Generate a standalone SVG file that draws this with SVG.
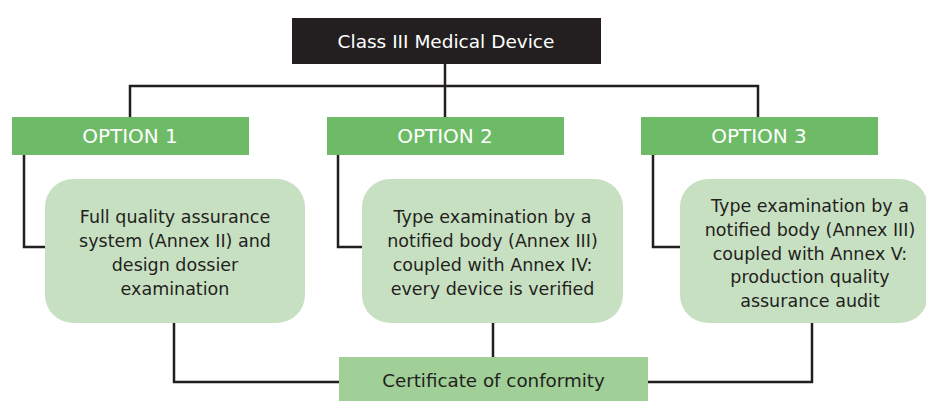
<svg xmlns="http://www.w3.org/2000/svg" width="926" height="401" viewBox="0 0 926 401">
<style>
.ln{fill:none;stroke:#231f20;stroke-width:2.5}
.opt{fill:#6dbb67}
.card{fill:#c8e0c2}
.t{font-family:"DejaVu Sans",sans-serif;text-anchor:middle}
.w{fill:#ffffff}
.d{fill:#231f20}
</style>
<rect width="926" height="401" fill="#ffffff"/>
<g id="connectors">
<path class="ln" d="M130 117V86H758V117M445 64V117"/>
<path class="ln" d="M24 155V247H45M338 155V247H362M653 155V247H680"/>
<path class="ln" d="M174 323V382H339M493 323V357M812 323V382H648"/>
</g>
<g id="title">
<rect x="292" y="18" width="309" height="46" fill="#231f20"/>
<text class="t w" x="446" y="48" font-size="18.5">Class III Medical Device</text>
</g>
<g id="option1">
<rect class="opt" x="12" y="117" width="237" height="38"/>
<text class="t w" x="130" y="143" font-size="20">OPTION 1</text>
</g>
<g id="option2">
<rect class="opt" x="327" y="117" width="237" height="38"/>
<text class="t w" x="445" y="143" font-size="20">OPTION 2</text>
</g>
<g id="option3">
<rect class="opt" x="641" y="117" width="237" height="38"/>
<text class="t w" x="759" y="143" font-size="20">OPTION 3</text>
</g>
<g id="desc1">
<rect class="card" x="45" y="179" width="260" height="144" rx="28"/>
<text class="t d" font-size="17.5"><tspan x="175" y="223">Full quality assurance</tspan><tspan x="175" y="247">system (Annex II) and</tspan><tspan x="175" y="271">design dossier</tspan><tspan x="175" y="295">examination</tspan></text>
</g>
<g id="desc2">
<rect class="card" x="362" y="179" width="261" height="144" rx="28"/>
<text class="t d" font-size="17.5"><tspan x="492.5" y="223">Type examination by a</tspan><tspan x="492.5" y="247">notified body (Annex III)</tspan><tspan x="492.5" y="271">coupled with Annex IV:</tspan><tspan x="492.5" y="295">every device is verified</tspan></text>
</g>
<g id="desc3">
<rect class="card" x="680" y="179" width="248" height="144" rx="28"/>
<text class="t d" font-size="17.5"><tspan x="810" y="212">Type examination by a</tspan><tspan x="810" y="236">notified body (Annex III)</tspan><tspan x="810" y="260">coupled with Annex V:</tspan><tspan x="810" y="283">production quality</tspan><tspan x="810" y="307">assurance audit</tspan></text>
</g>
<g id="certificate">
<rect x="339" y="357" width="309" height="44" fill="#a0cf98"/>
<text class="t d" x="493.5" y="387" font-size="18.3">Certificate of conformity</text>
</g>
</svg>
